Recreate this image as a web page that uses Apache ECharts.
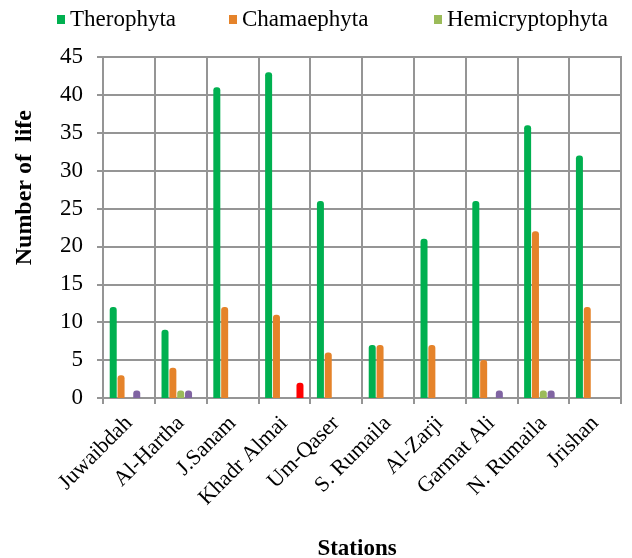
<!DOCTYPE html>
<html>
<head>
<meta charset="utf-8">
<script src="https://cdn.jsdelivr.net/npm/echarts@6/dist/echarts.min.js"></script>
<style>
  html, body { margin: 0; padding: 0; background: #fff; }
  #main { width: 632px; height: 558px; }
</style>
</head>
<body>
<div id="main"></div>
<script>
// stations along the x axis
var stations = ['Juwaibdah', 'Al-Hartha', 'J.Sanam', 'Khadr Almai', 'Um-Qaser',
  'S. Rumaila', 'Al-Zarji', 'Garmat Ali', 'N. Rumaila', 'Jrishan'];

// number of life forms per station
var therophyta      = [12, 9, 41, 43, 26, 7, 21, 26, 36, 32];
var chamaephyta     = [3, 4, 12, 11, 6, 7, 7, 5, 22, 12];
var hemicryptophyta = [0, 1, 0, 0, 0, 0, 0, 0, 1, 0];
var geophyta        = [1, 1, 0, 0, 0, 0, 0, 1, 1, 0];
var phanerophyta    = [0, 0, 0, 2, 0, 0, 0, 0, 0, 0];

var yTicks = [0, 5, 10, 15, 20, 25, 30, 35, 40, 45];

var chart = echarts.init(document.getElementById('main'));
var serif = '"Liberation Serif", "Times New Roman", serif';
var gray = '#959595';

function bar(name, data, color) {
  return {
    name: name,
    type: 'bar',
    data: data,
    barWidth: 7,
    barGap: '12%',
    itemStyle: { color: color, borderRadius: [3, 3, 0, 0] }
  };
}

// one legend per entry so each can sit where the original puts it
function legendAt(left, name) {
  return {
    top: 3,
    left: left,
    itemWidth: 8,
    itemHeight: 9,
    icon: 'rect',
    data: [name],
    textStyle: { fontFamily: serif, fontSize: 23, color: '#000' }
  };
}

var option = {
  animation: false,
  textStyle: { fontFamily: serif },
  legend: [
    legendAt(52, 'Therophyta'),
    legendAt(224, 'Chamaephyta'),
    legendAt(429, 'Hemicryptophyta')
  ],
  grid: {
    left: 103,
    right: 11,
    top: 57,
    bottom: 160,
    outerBoundsMode: 'none',
    containLabel: false,
    show: true,
    borderColor: gray,
    borderWidth: 2
  },
  graphic: [{
    type: 'text',
    left: 13,
    top: 110,
    rotation: Math.PI / 2,
    style: {
      text: 'Number of  life',
      font: 'bold 24px ' + serif,
      fill: '#000'
    }
  }],
  xAxis: {
    type: 'category',
    data: stations,
    name: 'Stations',
    nameLocation: 'middle',
    nameGap: 140,
    nameTextStyle: { fontFamily: serif, fontSize: 23, fontWeight: 'bold', color: '#000', padding: [0, 0, 0, -10] },
    axisLine: { lineStyle: { color: gray, width: 2 } },
    axisTick: { show: true, length: 6, lineStyle: { color: gray, width: 2 } },
    splitLine: { show: true, lineStyle: { color: gray, width: 2 } },
    axisLabel: {
      rotate: 45,
      interval: 0,
      margin: 22,
      fontFamily: serif,
      fontSize: 22,
      color: '#000'
    }
  },
  yAxis: {
    type: 'value',
    min: yTicks[0],
    max: yTicks[yTicks.length - 1],
    interval: 5,
    axisLine: { show: true, lineStyle: { color: gray, width: 2 } },
    axisTick: { show: true, length: 6, lineStyle: { color: gray, width: 2 } },
    splitLine: { show: true, lineStyle: { color: gray, width: 2 } },
    axisLabel: { margin: 20, fontFamily: serif, fontSize: 23, color: '#000' }
  },
  series: [
    bar('Therophyta', therophyta, '#00b050'),
    bar('Chamaephyta', chamaephyta, '#e5832a'),
    bar('Hemicryptophyta', hemicryptophyta, '#9bbb59'),
    bar('Geophyta', geophyta, '#8064a2'),
    bar('Phanerophyta', phanerophyta, '#ff0000')
  ]
};

chart.setOption(option);
</script>
</body>
</html>
